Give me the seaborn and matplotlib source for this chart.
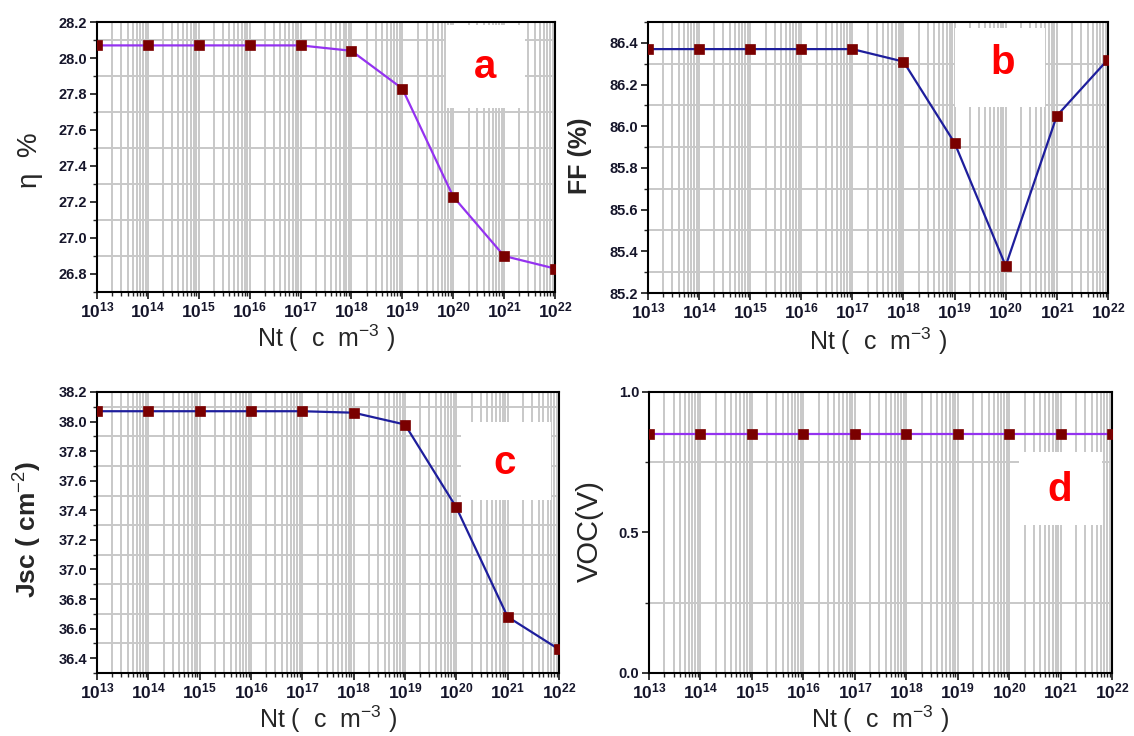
import matplotlib
matplotlib.use("Agg")
import matplotlib.pyplot as plt
import matplotlib.ticker as mticker
from matplotlib.patches import Rectangle
import seaborn as sns
import pandas as pd

# ---------------- data ----------------
nt = [1e13, 1e14, 1e15, 1e16, 1e17, 1e18, 1e19, 1e20, 1e21, 1e22]
exponents = ["13", "14", "15", "16", "17", "18", "19", "20", "21", "22"]
eta = [28.07, 28.07, 28.07, 28.07, 28.07, 28.04, 27.83, 27.23, 26.90, 26.83]
ff = [86.37, 86.37, 86.37, 86.37, 86.37, 86.31, 85.92, 85.33, 86.05, 86.32]
jsc = [38.07, 38.07, 38.07, 38.07, 38.07, 38.06, 37.98, 37.42, 36.68, 36.46]
voc = [0.85, 0.85, 0.85, 0.85, 0.85, 0.85, 0.85, 0.85, 0.85, 0.85]
panel_letters = ["a", "b", "c", "d"]

df = pd.DataFrame({"Nt": nt, "eta": eta, "FF": ff, "Jsc": jsc, "VOC": voc})

# ---------------- style ----------------
sns.set_style("ticks")
plt.rcParams["font.family"] = ["Liberation Sans", "DejaVu Sans"]
plt.rcParams["mathtext.fontset"] = "custom"
plt.rcParams["mathtext.rm"] = "Liberation Sans"
plt.rcParams["mathtext.bf"] = "Liberation Sans:bold"
plt.rcParams["mathtext.it"] = "Liberation Sans:italic"

PURPLE = "#9432F0"
BLUE = "#1E1E9C"
MARK = "#7A0000"
GRID = "#C8C8C8"
TICKC = "#15152A"

fig = plt.figure(figsize=(11.34, 7.36), dpi=100)

positions = {
    "a": [0.0855, 0.6033, 0.4039, 0.3668],
    "b": [0.5714, 0.6019, 0.4056, 0.3682],
    "c": [0.0855, 0.0856, 0.4074, 0.3818],
    "d": [0.5723, 0.0856, 0.4083, 0.3818],
}

specs = {
    "a": dict(col="eta", color=PURPLE, ylim=(26.7, 28.2), major=0.2,
              ylabel="η  %", yl_kw=dict(fontsize=20, fontweight="normal"),
              ylc=(-0.146, 0.489), xlc=-0.170,
              box=(0.762, 0.681, 0.934, 0.989), let=(0.847, 0.833), fmt="%.1f"),
    "b": dict(col="FF", color=BLUE, ylim=(85.2, 86.5), major=0.2,
              ylabel="FF (%)", yl_kw=dict(fontsize=18, fontweight="bold"),
              ylc=(-0.148, 0.505), xlc=-0.178,
              box=(0.667, 0.686, 0.863, 0.978), let=(0.772, 0.849), fmt="%.1f"),
    "c": dict(col="Jsc", color=BLUE, ylim=(36.3, 38.2), major=0.2,
              ylabel="Jsc ( cm$^{-2}$)", yl_kw=dict(fontsize=19, fontweight="bold"),
              ylc=(-0.149, 0.509), xlc=-0.163,
              box=(0.788, 0.616, 0.983, 0.893), let=(0.883, 0.747), fmt="%.1f"),
    "d": dict(col="VOC", color=PURPLE, ylim=(0.0, 1.0), major=0.5,
              ylabel="VOC(V)", yl_kw=dict(fontsize=21, fontweight="normal"),
              ylc=(-0.127, 0.505), xlc=-0.163,
              box=(0.799, 0.527, 0.978, 0.786), let=(0.886, 0.651), fmt="%.1f"),
}

xticklabels = ["$\\mathbf{10^{" + e + "}}$" for e in exponents]

for key in panel_letters:
    s = specs[key]
    ax = fig.add_axes(positions[key])
    ax.set_axisbelow(True)
    sns.lineplot(data=df, x="Nt", y=s["col"], ax=ax, color=s["color"],
                 linewidth=1.6, marker="s", markersize=6.5,
                 markerfacecolor=MARK, markeredgecolor=MARK,
                 markeredgewidth=0.5, zorder=3)
    ax.set_xscale("log")
    ax.set_xlim(nt[0], nt[-1])
    ax.set_ylim(*s["ylim"])

    ax.set_xticks(nt)
    ax.set_xticklabels(xticklabels)
    ax.xaxis.set_minor_locator(mticker.LogLocator(base=10, subs=range(2, 10), numticks=100))
    ax.xaxis.set_minor_formatter(mticker.NullFormatter())
    ax.yaxis.set_major_locator(mticker.MultipleLocator(s["major"]))
    ax.yaxis.set_minor_locator(mticker.AutoMinorLocator(2))
    ax.yaxis.set_major_formatter(mticker.FormatStrFormatter(s["fmt"]))

    ax.grid(which="both", axis="x", color=GRID, linewidth=1.4)
    ax.grid(which="minor", axis="y", color=GRID, linewidth=1.4)
    ax.grid(which="major", axis="y", visible=False)

    ax.tick_params(which="major", direction="out", length=5, width=1.3,
                   labelcolor=TICKC, pad=2)
    ax.tick_params(axis="y", which="major", labelsize=10.5)
    ax.tick_params(axis="x", which="major", labelsize=12.5, pad=1)
    ax.tick_params(which="minor", direction="out", length=3, width=1.0)
    ax.tick_params(axis="x", which="both", top=False)
    for lab in ax.get_yticklabels():
        lab.set_fontweight("bold")

    for sp in ax.spines.values():
        sp.set_visible(True)
        sp.set_color("black")
        sp.set_linewidth(1.5)

    ax.set_xlabel("Nt (  c  m$^{-3}$ )", fontsize=18)
    ax.xaxis.label.set_va("center")
    ax.xaxis.set_label_coords(0.5, s["xlc"])

    ax.set_ylabel(s["ylabel"], **s["yl_kw"])
    ax.yaxis.label.set_va("center")
    ax.yaxis.set_label_coords(*s["ylc"])

    x0, y0, x1, y1 = s["box"]
    ax.add_patch(Rectangle((x0, y0), x1 - x0, y1 - y0, transform=ax.transAxes,
                           facecolor="white", edgecolor="none", zorder=1))
    ax.text(s["let"][0], s["let"][1], key, transform=ax.transAxes,
            ha="center", va="center", fontsize=29, fontweight="bold",
            color="#FF0000", zorder=4)

fig.savefig("out.png", dpi=100)
